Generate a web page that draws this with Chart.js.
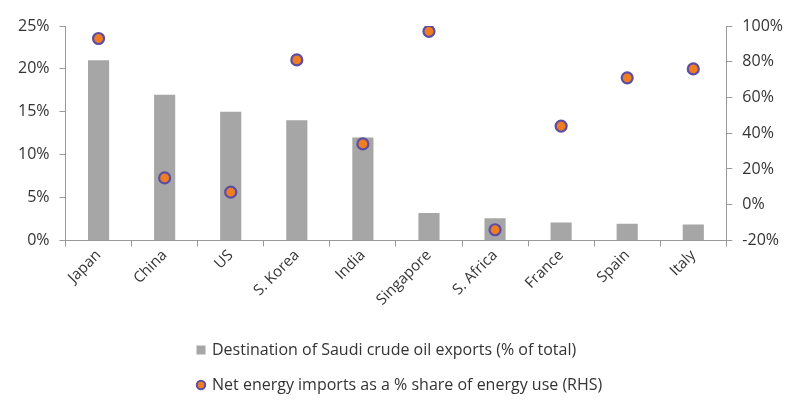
<!DOCTYPE html>
<html>
<head>
<meta charset="utf-8">
<script src="https://cdn.jsdelivr.net/npm/chart.js@4.4.0/dist/chart.umd.min.js"></script>
<style>
  html, body { margin: 0; padding: 0; background: #fff; }
  #wrap { width: 800px; height: 412px; position: relative; }
</style>
</head>
<body>
<div id="wrap"><canvas id="c"></canvas></div>
<script>
const categories = ["Japan", "China", "US", "S. Korea", "India", "Singapore", "S. Africa", "France", "Spain", "Italy"];
const exportShare = [21, 17, 15, 14, 12, 3.2, 2.6, 2.1, 1.95, 1.85];
const netImports = [93, 15, 7, 81, 34, 97, -14, 44, 71, 76];
const leftTicks = [0, 5, 10, 15, 20, 25];
const rightTicks = [-20, 0, 20, 40, 60, 80, 100];
const barLabel = "Destination of Saudi crude oil exports (% of total)";
const pointLabel = "Net energy imports as a % share of energy use (RHS)";

const FONT = "'Open Sans', sans-serif";
const TXT = "#333333";
const AX = "#9a9a9a";
const BAR_COLOR = "#A6A6A6";

// shift the (left-aligned) legend rows to start where the reference rows start
const legendShift = {
  id: "legendShift",
  afterLayout(chart) {
    if (chart.legend) {
      const w = chart.legend.width;
      chart.legend.left = 179;
      chart.legend.right = 179 + w;
    }
  }
};

new Chart(document.getElementById("c"), {
  type: "bar",
  data: {
    labels: categories,
    datasets: [
      {
        type: "line",
        label: pointLabel,
        data: netImports,
        yAxisID: "y1",
        showLine: false,
        pointStyle: "circle",
        pointRadius: 5.5,
        pointHoverRadius: 5.5,
        pointBackgroundColor: "#F07D22",
        pointBorderColor: "#5B4EA3",
        pointBorderWidth: 2.2,
        backgroundColor: "#F07D22",
        borderColor: "#5B4EA3",
        borderWidth: 2,
        order: 1
      },
      {
        type: "bar",
        label: barLabel,
        data: exportShare,
        yAxisID: "y",
        backgroundColor: BAR_COLOR,
        borderWidth: 0,
        barPercentage: 0.32,
        categoryPercentage: 1,
        pointStyle: "rect",
        order: 2
      }
    ]
  },
  plugins: [legendShift],
  options: {
    responsive: true,
    maintainAspectRatio: false,
    animation: false,
    devicePixelRatio: 1,
    layout: { padding: { left: 8, right: 7, top: 26, bottom: 9 } },
    plugins: {
      tooltip: { enabled: false },
      legend: {
        position: "bottom",
        align: "start",
        reverse: true,
        labels: {
          usePointStyle: true,
          boxWidth: 6,
          boxHeight: 6,
          padding: 19,
          color: TXT,
          font: { family: FONT, size: 16 },
          generateLabels: (chart) => {
            const items = Chart.defaults.plugins.legend.labels.generateLabels(chart);
            items.forEach(it => {
              if (it.datasetIndex === 1) {
                it.strokeStyle = BAR_COLOR;
                it.lineWidth = 3;
              } else {
                it.lineWidth = 2;
              }
            });
            return items;
          }
        }
      }
    },
    scales: {
      x: {
        offset: true,
        afterFit: (axis) => { axis.height += 14; },
        grid: { display: true, drawOnChartArea: false, drawTicks: true, tickLength: 6, color: AX, offset: true },
        border: { display: true, color: AX },
        ticks: {
          color: TXT,
          font: { family: FONT, size: 15 },
          maxRotation: 45,
          minRotation: 45,
          padding: 0
        }
      },
      y: {
        position: "left",
        min: 0,
        max: 25,
        afterBuildTicks: (axis) => { axis.ticks = leftTicks.map(v => ({ value: v })); },
        grid: { display: true, drawOnChartArea: false, drawTicks: true, tickLength: 6, color: AX },
        border: { display: true, color: AX },
        ticks: {
          color: TXT,
          font: { family: FONT, size: 16 },
          padding: 10,
          callback: (v) => v + "%"
        }
      },
      y1: {
        position: "right",
        min: -20,
        max: 100,
        afterBuildTicks: (axis) => { axis.ticks = rightTicks.map(v => ({ value: v })); },
        grid: { display: true, drawOnChartArea: false, drawTicks: true, tickLength: 6, color: AX },
        border: { display: true, color: AX },
        ticks: {
          color: TXT,
          font: { family: FONT, size: 16 },
          padding: 10,
          callback: (v) => v + "%"
        }
      }
    }
  }
});
</script>
</body>
</html>
